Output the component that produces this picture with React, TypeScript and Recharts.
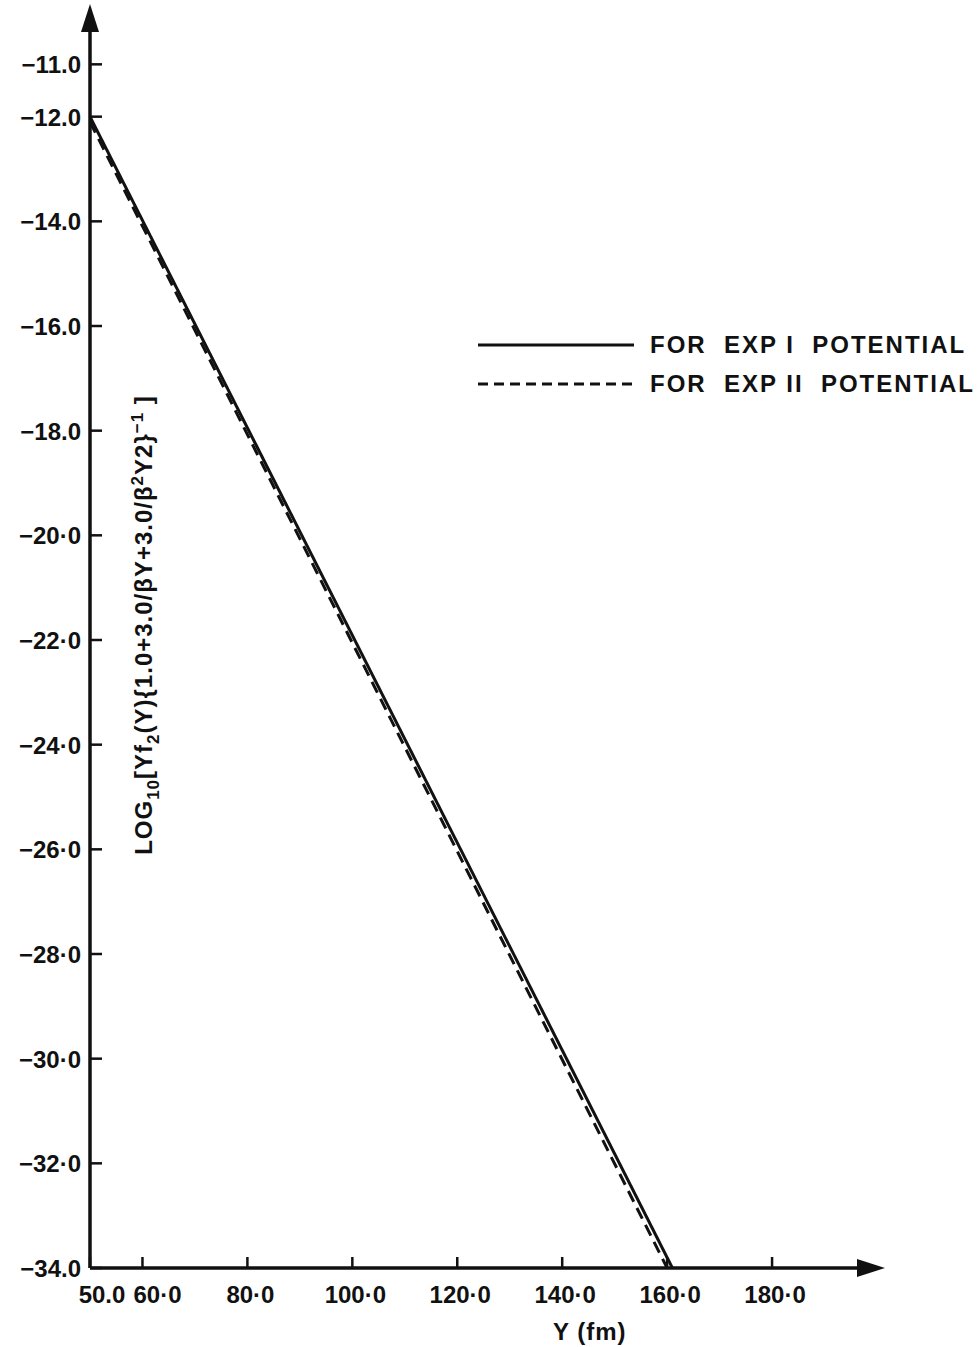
import React from 'react';
import { LineChart, Line, XAxis, YAxis, Label } from 'recharts';

const xTicks = [50, 60, 80, 100, 120, 140, 160, 180];
const xTickLabels = ['50.0', '60·0', '80·0', '100·0', '120·0', '140·0', '160·0', '180·0'];
const yTicks = [-11, -12, -14, -16, -18, -20, -22, -24, -26, -28, -30, -32, -34];
const yTickLabels = ['−11.0', '−12.0', '−14.0', '−16.0', '−18.0', '−20·0', '−22·0', '−24·0', '−26·0', '−28·0', '−30·0', '−32·0', '−34.0'];

// both curves are straight lines
const expIData = [
  { y: 50.0, v: -12.0 },
  { y: 161.0, v: -34.0 },
];
const expIIData = [
  { y: 50.0, v: -12.1 },
  { y: 160.0, v: -34.0 },
];

const legendItems = [
  { label: 'FOR  EXP I  POTENTIAL', dash: undefined },
  { label: 'FOR  EXP II  POTENTIAL', dash: '10 6' },
];

const FONT = '"Liberation Sans", Arial, sans-serif';

const XTick = (props: any) => {
  const { x, y, payload } = props;
  const i = xTicks.indexOf(payload.value);
  const shift = payload.value === 50 ? 12 : payload.value === 60 ? 15 : 3;
  return (
    <text x={x + shift} y={y + 27} textAnchor="middle" fontFamily={FONT} fontWeight="bold" fontSize={24} fill="#111">
      {xTickLabels[i]}
    </text>
  );
};

const YTick = (props: any) => {
  const { x, y, payload } = props;
  const i = yTicks.indexOf(payload.value);
  return (
    <text x={x} y={y + 9} textAnchor="end" fontFamily={FONT} fontWeight="bold" fontSize={24} fill="#111">
      {yTickLabels[i]}
    </text>
  );
};

const App: React.FC = () => {
  return (
    <div style={{ position: 'relative', width: 978, height: 1347, background: '#fff' }}>
      <style>{'body{margin:0}'}</style>
      <LineChart width={978} height={1347} margin={{ top: 12, right: 101, bottom: 39, left: 0 }}>
        <defs>
          <marker id="arrowHead" markerUnits="userSpaceOnUse" markerWidth={28} markerHeight={18} refX={20} refY={9} orient="auto-start-reverse">
            <path d="M0,0 L28,9 L0,18 z" fill="#111" />
          </marker>
        </defs>
        <XAxis
          dataKey="y"
          type="number"
          domain={[50, 200]}
          allowDataOverflow
          ticks={xTicks}
          interval={0}
          height={40}
          tickSize={-11}
          tickMargin={19}
          tick={<XTick />}
          tickLine={{ stroke: '#111', strokeWidth: 2.5 }}
          axisLine={{ stroke: '#111', strokeWidth: 3.5, markerEnd: 'url(#arrowHead)' } as any}
        >
          <Label
            content={({ viewBox }: any) => (
              <text x={viewBox.x + viewBox.width * 0.635} y={viewBox.y + 72} textAnchor="middle" fontFamily={FONT} fontWeight="bold" fontSize={24} letterSpacing={1} fill="#111">
                Y (fm)
              </text>
            )}
          />
        </XAxis>
        <YAxis
          dataKey="v"
          type="number"
          domain={[-34, -10]}
          allowDataOverflow
          ticks={yTicks}
          interval={0}
          width={90}
          tickSize={-12}
          tickMargin={21}
          tick={<YTick />}
          tickLine={{ stroke: '#111', strokeWidth: 2.5 }}
          axisLine={{ stroke: '#111', strokeWidth: 3.5, markerStart: 'url(#arrowHead)' } as any}
        >
          <Label
            content={({ viewBox }: any) => {
              const lx = viewBox.x + viewBox.width + 62;
              const ly = 625;
              return (
                <text transform={`translate(${lx},${ly}) rotate(-90)`} textAnchor="middle" fontFamily={FONT} fontWeight="bold" fontSize={24} letterSpacing={1} fill="#111">
                  <tspan>LOG</tspan>
                  <tspan fontSize={17} dy={7}>10</tspan>
                  <tspan dy={-7}>[Yf</tspan>
                  <tspan fontSize={17} dy={7}>2</tspan>
                  <tspan dy={-7}>(Y){'{'}1.0+3.0/βY+3.0/β</tspan>
                  <tspan fontSize={17} dy={-9}>2</tspan>
                  <tspan dy={9}>Y2</tspan>
                  <tspan>{'}'}</tspan>
                  <tspan fontSize={17} dy={-9}>−1</tspan>
                  <tspan dy={9}> ]</tspan>
                </text>
              );
            }}
          />
        </YAxis>
        <Line data={expIData} dataKey="v" name="FOR EXP I POTENTIAL" stroke="#111" strokeWidth={3} dot={false} isAnimationActive={false} />
        <Line data={expIIData} dataKey="v" name="FOR EXP II POTENTIAL" stroke="#111" strokeWidth={3} strokeDasharray="12 7" dot={false} isAnimationActive={false} />
      </LineChart>
      <div style={{ position: 'absolute', top: 325, left: 472, fontFamily: FONT, fontWeight: 'bold', fontSize: 24, letterSpacing: 2, color: '#111' }}>
        {legendItems.map((item) => (
          <div key={item.label} style={{ display: 'flex', alignItems: 'center', height: 39, whiteSpace: 'pre' }}>
            <svg width={178} height={10}>
              <line x1={6} y1={5} x2={162} y2={5} stroke="#111" strokeWidth={3} strokeDasharray={item.dash} />
            </svg>
            <span>{item.label}</span>
          </div>
        ))}
      </div>
    </div>
  );
};

export default App;
